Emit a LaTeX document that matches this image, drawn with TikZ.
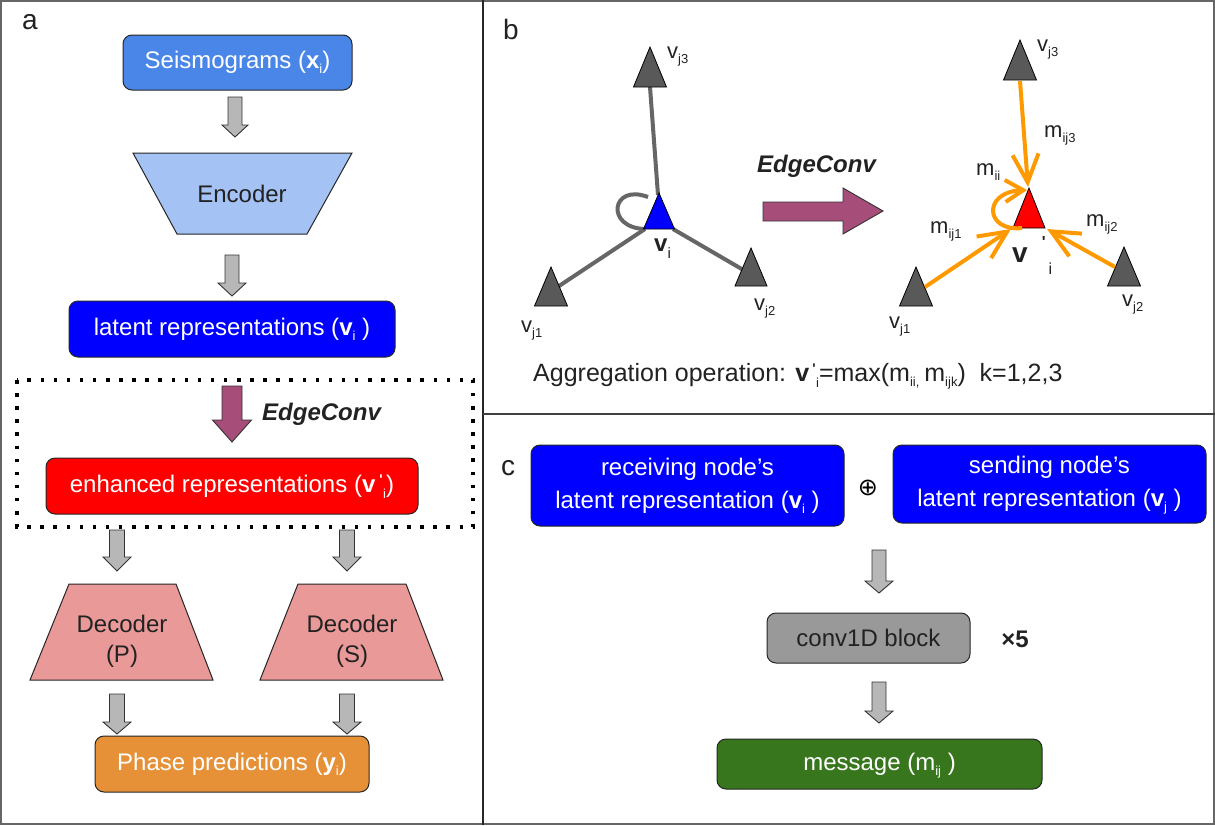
\documentclass[tikz,border=0pt]{standalone}
\usepackage{fontspec}
\setmainfont{Liberation Sans}
\newfontfamily\djv{DejaVu Sans}
\usetikzlibrary{arrows.meta}

\definecolor{seis}{HTML}{4A86E8}
\definecolor{enc}{HTML}{A4C2F4}
\definecolor{lat}{HTML}{0000FF}
\definecolor{enh}{HTML}{FF0000}
\definecolor{dec}{HTML}{EA9999}
\definecolor{pha}{HTML}{E69138}
\definecolor{purp}{HTML}{A64D79}
\definecolor{garrow}{HTML}{B7B7B7}
\definecolor{tri}{HTML}{595959}
\definecolor{edgegray}{HTML}{666666}
\definecolor{orng}{HTML}{FF9900}
\definecolor{convg}{HTML}{999999}
\definecolor{msg}{HTML}{38761D}
\definecolor{ink}{HTML}{222222}

\newcommand\lsub[1]{\smash{\raisebox{-5pt}{\fontsize{13}{13}\selectfont #1}}}
% prime above, index below and slightly to the right
\newcommand\primesub[1]{\smash{\raisebox{8pt}{\fontsize{14}{14}\selectfont\bfseries\textquotesingle}\kern0.5pt\raisebox{-6pt}{\fontsize{13}{13}\selectfont #1}}}

% block arrow pointing down: cx, top, tip, shaft half, head half, head length, fill
\newcommand\blockarrow[7]{%
  \filldraw[fill=#7, draw=black!80, line width=0.9pt, line join=miter]
   (#1-#4,#2) -- (#1+#4,#2) -- (#1+#4,#3-#6) -- (#1+#5,#3-#6) -- (#1,#3)
   -- (#1-#5,#3-#6) -- (#1-#4,#3-#6) -- cycle;}

% triangle: name, apex x, apex y, half width, height, fill
\newcommand\tri[6]{%
  \filldraw[fill=#6, draw=black, line width=0.8pt, line join=miter]
   (#2,#3) -- (#2+#4,#3+#5) -- (#2-#4,#3+#5) -- cycle;
  \coordinate (#1-apex) at (#2,#3);
  \coordinate (#1-bl) at (#2-#4,#3+#5);
  \coordinate (#1-br) at (#2+#4,#3+#5);
  \coordinate (#1-bc) at (#2,#3+#5);}

\begin{document}
\begin{tikzpicture}[x=1pt,y=-1pt,
  box/.style={draw=black!85, line width=1pt, rounded corners=9pt, anchor=north west,
    inner sep=0pt, outer sep=0pt, text=white, align=center,
    font=\fontsize{24}{33}\selectfont},
  plain/.style={inner sep=0pt, text=ink, font=\fontsize{24}{30}\selectfont, align=center},
  lbl/.style={inner sep=0pt, anchor=base west, text=ink, font=\fontsize{22}{22}\selectfont},
  panel/.style={inner sep=0pt, text=ink, font=\fontsize{28}{28}\selectfont},
  gedge/.style={draw=edgegray, line width=4pt},
  oedge/.style={draw=orng, line width=4pt,
    -{Straight Barb[length=28pt,width=26pt,line width=4pt]}},
  outl/.style={draw=black!85, line width=1pt, line join=miter}]

\fill[white] (0,0) rectangle (1215,825);
\useasboundingbox (0,0) rectangle (1215,825);

% frame and dividers
\draw[black!60, line width=2pt] (1,1) rectangle (1214,824);
\draw[black!85, line width=1.5pt] (483,0) -- (483,825);
\draw[black!75, line width=1.5pt] (483,414) -- (1215,414);

% ---------------- panel a ----------------
\node[panel] (la) at (30,22) {a};

\node[box, fill=seis, minimum width=229pt, minimum height=55pt] (seis) at (123,35)
  {Seismograms (\textbf{x}\lsub{i})};
\blockarrow{235}{97}{137}{7}{13}{12}{garrow}

\filldraw[outl, fill=enc] (133,153) -- (352,153) -- (307,234) -- (177,234) -- cycle;
\node[plain] (enc) at (242,194) {Encoder};
\blockarrow{232}{255}{296}{7}{14}{13}{garrow}

\node[box, fill=lat, minimum width=326pt, minimum height=56pt] (lat) at (69,301)
  {latent representations (\textbf{v}\lsub{i} )};

\draw[black, line width=3.5pt, dash pattern=on 3.5pt off 9.6pt] (17,380) rectangle (473,527);
\blockarrow{232}{386}{442}{10}{19.5}{22}{purp}
\node[lbl, font=\fontsize{24}{24}\selectfont\bfseries\itshape] (ec1) at (262,420) {EdgeConv};

\node[box, fill=enh, minimum width=372pt, minimum height=56pt] (enh) at (46,458)
  {enhanced representations (\textbf{v}\kern4pt\primesub{i})};

\blockarrow{117}{530}{571}{7.5}{14}{14}{garrow}
\blockarrow{347}{530}{571}{7.5}{14}{14}{garrow}

\filldraw[outl, fill=dec] (69,584) -- (176,584) -- (213,680) -- (30,680) -- cycle;
\node[plain] (decp) at (122,641) {Decoder\\(P)};
\filldraw[outl, fill=dec] (298,584) -- (406,584) -- (443,680) -- (260,680) -- cycle;
\node[plain] (decs) at (352,641) {Decoder\\(S)};

\blockarrow{117}{694}{734}{7.5}{14}{12}{garrow}
\blockarrow{347}{694}{734}{7.5}{14}{12}{garrow}

\node[box, fill=pha, minimum width=274pt, minimum height=56pt] (pha) at (95,736)
  {Phase predictions (\textbf{y}\lsub{i})};

% ---------------- panel b ----------------
\node[panel] (lb) at (511,29) {b};

% left graph
\coordinate (L3end) at (650,87);
\coordinate (L1end) at (553,290);
\coordinate (L2end) at (752,275);
\coordinate (Cl) at (645,229);
\coordinate (Cr) at (673,229);
\coordinate (Ct) at (658,195);
\draw[gedge] (Ct) -- (L3end);
\draw[gedge] (Cl) -- (L1end);
\draw[gedge] (Cr) -- (L2end);
\draw[gedge] (648,197) .. controls (611,183) and (605,228) .. (Cl);
\tri{L3}{650}{47}{16.5}{40}{tri}
\tri{L1}{551}{267}{16.5}{39}{tri}
\tri{L2}{751}{248}{16}{38}{tri}
\tri{C}{659}{193}{15.5}{36}{lat}

\node[lbl] (vj3a) at (667,58) {v\lsub{j3}};
\node[lbl] (vj1a) at (521,332) {v\lsub{j1}};
\node[lbl] (vj2a) at (754,310) {v\lsub{j2}};
\node[lbl, font=\fontsize{24}{24}\selectfont] (via) at (654,251)
  {\textbf{v}\smash{\raisebox{-7pt}{\fontsize{15}{15}\selectfont i}}};

% EdgeConv arrow
\filldraw[fill=purp, draw=black!80, line width=0.9pt, line join=miter]
  (763,202) -- (843,202) -- (843,188) -- (883,211) -- (843,234) -- (843,221) -- (763,221) -- cycle;
\node[lbl, font=\fontsize{24}{24}\selectfont\bfseries\itshape] (ec2) at (757,172) {EdgeConv};

% right graph
\tri{R3}{1020}{40}{16.5}{40}{tri}
\tri{R1}{916}{267}{16.5}{39}{tri}
\tri{R2}{1124}{247}{16.5}{39}{tri}
\tri{V}{1029}{188}{16}{40}{enh}

\coordinate (t3) at (1028,187);
\coordinate (t1) at (1011,229);
\coordinate (t2) at (1047,229);
\coordinate (s1) at (925,287);
\coordinate (s2) at (1115,267);
\coordinate (s3) at (1020,81);
\draw[oedge] (s3) -- (t3);
\draw[oedge] (s1) -- (t1);
\draw[oedge] (s2) -- (t2);
\draw[draw=orng, line width=4pt, -{Straight Barb[length=18pt,width=22pt,line width=4pt]}]
  (1022,228) .. controls (985,232) and (982,192) .. (1027,190);

\node[lbl] (vj3b) at (1037,51) {v\lsub{j3}};
\node[lbl] (vj1b) at (889,328) {v\lsub{j1}};
\node[lbl] (vj2b) at (1122,306) {v\lsub{j2}};
\node[lbl] (m3) at (1044,137) {m\lsub{ij3}};
\node[lbl] (mii) at (976,175) {m\lsub{ii}};
\node[lbl] (m1) at (930,233) {m\lsub{ij1}};
\node[lbl] (m2) at (1086,226) {m\lsub{ij2}};
\node[lbl, font=\fontsize{28}{28}\selectfont\bfseries] (vpi) at (1012,262)
  {v\kern14pt\smash{\raisebox{15pt}{\fontsize{16}{16}\selectfont\textquotesingle}\kern3pt\raisebox{-12pt}{\fontsize{16}{16}\selectfont\mdseries i}}};

\node[lbl, font=\fontsize{25}{25}\selectfont] (agg) at (533,381)
  {Aggregation operation: \textbf{v}\kern3pt\primesub{i}=max(m\lsub{ii,}\kern5pt m\lsub{ijk})\ \ k=1,2,3};

% ---------------- panel c ----------------
\node[panel] (lc) at (508,468) {c};
\node[box, fill=lat, minimum width=313pt, minimum height=81pt] (rec) at (531,445)
  {receiving node's\\latent representation (\textbf{v}\lsub{i} )};
\node[inner sep=0pt, font=\djv\fontsize{24}{24}\selectfont] (oplus) at (868,488) {⊕};
\node[box, fill=lat, minimum width=313pt, minimum height=78pt] (send) at (893,445)
  {sending node's\\latent representation (\textbf{v}\lsub{j} )};

\blockarrow{879}{550}{593}{7}{14}{12}{garrow}
\node[box, fill=convg, text=ink, minimum width=203pt, minimum height=50pt] (conv) at (767,613)
  {conv1D block};
\node[plain, font=\fontsize{24}{24}\selectfont\bfseries] (x5) at (1015,639) {×5};
\blockarrow{879}{682}{723}{7}{14}{12}{garrow}
\node[box, fill=msg, minimum width=325pt, minimum height=50pt] (msg) at (717,739)
  {message (m\lsub{ij} )};

\end{tikzpicture}
\end{document}
